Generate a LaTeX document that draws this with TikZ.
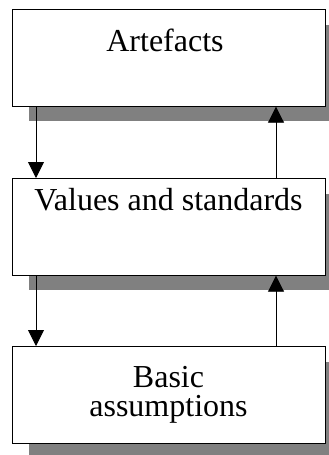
\documentclass[tikz,border=0pt]{standalone}
\usepackage{fontspec}
\setmainfont{Liberation Serif}
\usetikzlibrary{calc,arrows.meta,shadows}

\begin{document}
\begin{tikzpicture}[x=1pt,y=-1pt,
    layerbox/.style={draw, line width=1.2pt, fill=white, inner sep=0pt,
      minimum width=313pt, minimum height=96.5pt, anchor=north west,
      drop shadow={shadow xshift=16pt, shadow yshift=-15pt, fill=black!50, opacity=1}},
    layertext/.style={anchor=base, align=center, inner sep=0pt,
      font=\fontsize{32}{29}\selectfont},
    flow/.style={-{Triangle[length=16pt,width=16pt]}, line width=0.9pt}]
    \useasboundingbox (0,0) rectangle (329,455);
    % the three layers
    \node[layerbox] (artefacts) at (12,9) {};
    \node[layerbox] (values) at (12,178) {};
    \node[layerbox] (basic) at (12,346) {};
    \node[layertext] (artefactstext) at (165,51) {Artefacts};
    \node[layertext] (valuestext) at (168.5,210) {Values and standards};
    \node[layertext] (basictext) at (168.5,416) {Basic\\assumptions};
    % down on the left, up on the right
    \draw[flow] ($(artefacts.south west)+(24,0)$) -- ($(values.north west)+(24,0)$);
    \draw[flow] ($(values.north west)+(264,0)$) -- ($(artefacts.south west)+(264,0)$);
    \draw[flow] ($(values.south west)+(24,0)$) -- ($(basic.north west)+(24,0)$);
    \draw[flow] ($(basic.north west)+(264,0)$) -- ($(values.south west)+(264,0)$);
\end{tikzpicture}
\end{document}
